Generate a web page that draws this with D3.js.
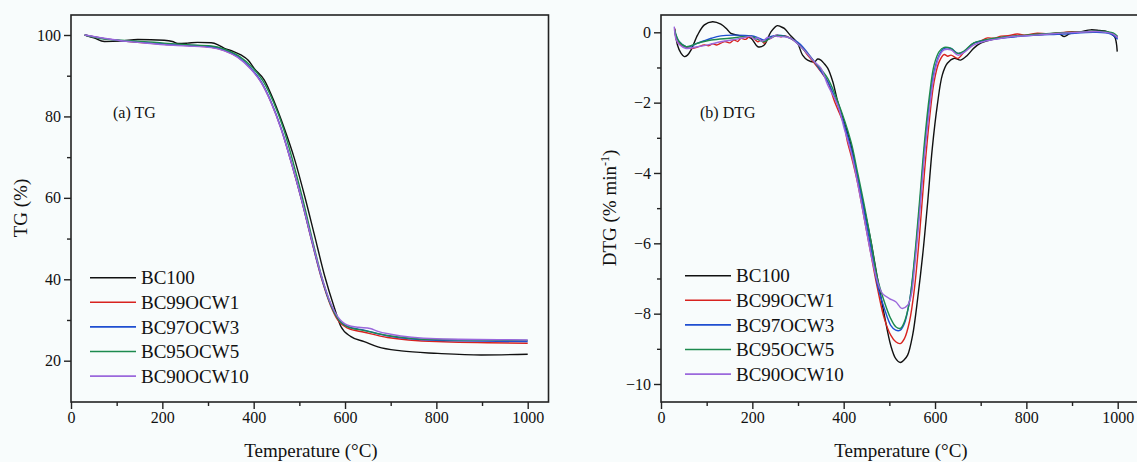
<!DOCTYPE html>
<html><head><meta charset="utf-8">
<script src="https://cdn.jsdelivr.net/npm/d3@7"></script>
<style>
html,body{margin:0;padding:0;background:#f8fcfc;}
svg{display:block;font-family:"Liberation Serif","Times New Roman",serif;}
</style></head>
<body><svg id="c" width="1137" height="462"></svg>
<script>
// ---------- data ----------
const seriesNames = ["BC100","BC99OCW1","BC97OCW3","BC95OCW5","BC90OCW10"];
const seriesColors = ["#111111","#d8231f","#1f4fd1","#1d8a4e","#9b68dc"];
const xTicksMajor = [0,200,400,600,800,1000];
const xTicksMinor = [100,300,500,700,900];
const tgTicksMajor = [20,40,60,80,100];
const tgTicksMinor = [30,50,70,90];
const dtgTicksMajor = [0,-2,-4,-6,-8,-10];
const dtgTicksMinor = [-1,-3,-5,-7,-9];

// TG (%) vs temperature (°C)
const tgBC100 = [[30,100],[50,99.3],[73,98.4],[110,98.5],[146,98.9],[204,98.7],[222,98.4],[234,97.9],[255,98.0],[277,98.2],[307,98.1],[322,97.6],[336,96.7],[355,96.0],[372,95.1],[388,93.8],[401,91.8],[423,89.0],[445,83.6],[467,77.1],[489,69.7],[511,60.7],[533,50.9],[555,41.0],[577,32.9],[591,28.4],[613,25.9],[642,24.7],[672,23.4],[723,22.4],[803,21.8],[898,21.4],[1000,21.6]];
const tgBC99 = [[30,100],[73,99.1],[110,98.6],[146,98.2],[204,97.7],[255,97.4],[307,97.0],[336,96.2],[365,94.6],[394,91.7],[416,88.5],[438,83.5],[460,77.0],[482,68.8],[504,59.8],[526,49.9],[547,40.8],[569,33.4],[584,30.0],[606,28.0],[642,27.0],[693,25.7],[800,24.7],[1000,24.3]];
const tgBC97 = [[30,100],[73,99.1],[110,98.6],[146,98.3],[204,97.8],[255,97.5],[307,97.1],[336,96.3],[365,94.7],[394,91.8],[416,88.6],[438,83.6],[460,77.1],[482,68.9],[504,59.9],[526,50.0],[547,41.0],[569,33.7],[584,30.4],[606,28.4],[642,27.5],[693,26.1],[800,25.0],[1000,24.7]];
const tgBC95 = [[30,100],[73,99.0],[110,98.7],[146,98.5],[204,98.0],[255,97.6],[307,97.3],[336,96.5],[368,94.8],[399,91.8],[421,88.6],[443,83.6],[465,77.1],[486,68.9],[507,59.9],[528,50.0],[548,41.0],[569,33.7],[584,30.4],[606,28.3],[642,27.4],[693,26.2],[800,25.2],[1000,25.0]];
const tgBC90 = [[30,100],[73,99.2],[110,98.6],[146,98.2],[204,97.6],[255,97.3],[307,96.9],[336,96.1],[365,94.5],[394,91.6],[416,88.4],[438,83.4],[460,76.9],[482,68.8],[504,60.0],[526,50.2],[547,41.3],[569,34.0],[584,30.8],[606,28.7],[630,28.2],[655,27.9],[672,27.2],[700,26.5],[800,25.4],[1000,25.1]];

// DTG (% min-1) vs temperature (°C)
const dtgBC100 = [[30,0.1],[36,-0.36],[44,-0.6],[51,-0.69],[58,-0.65],[66,-0.5],[80,-0.08],[95,0.21],[113,0.30],[131,0.23],[145,0.08],[153,-0.03],[175,-0.1],[197,-0.17],[212,-0.41],[226,-0.36],[241,0.02],[255,0.19],[262,0.16],[270,0.11],[284,-0.1],[299,-0.31],[310,-0.65],[321,-0.79],[336,-0.84],[343,-0.76],[350,-0.79],[358,-0.9],[365,-1.02],[376,-1.4],[387,-1.97],[401,-2.54],[416,-3.2],[430,-4.06],[445,-5.0],[460,-5.96],[474,-7.0],[489,-8.04],[503,-8.9],[514,-9.28],[524,-9.39],[532,-9.32],[540,-9.18],[551,-8.61],[562,-7.57],[573,-6.33],[584,-4.82],[594,-3.3],[605,-2.07],[616,-1.21],[627,-0.88],[642,-0.74],[656,-0.79],[671,-0.65],[685,-0.45],[700,-0.31],[729,-0.19],[770,-0.12],[802,-0.08],[840,-0.06],[870,-0.03],[883,-0.12],[895,-0.04],[920,0.02],[941,0.07],[960,0.05],[977,0.02],[993,-0.12],[997,-0.3],[999,-0.55]];
const dtgBC99 = [[30,0.11],[36,-0.27],[51,-0.41],[66,-0.46],[80,-0.42],[95,-0.36],[105,-0.38],[113,-0.33],[122,-0.36],[131,-0.31],[140,-0.26],[150,-0.3],[160,-0.22],[168,-0.26],[175,-0.17],[185,-0.2],[192,-0.14],[197,-0.12],[205,-0.2],[212,-0.27],[219,-0.22],[226,-0.31],[233,-0.2],[241,-0.17],[248,-0.1],[255,-0.08],[262,-0.13],[270,-0.1],[284,-0.17],[299,-0.31],[310,-0.45],[321,-0.65],[336,-0.88],[350,-1.12],[365,-1.4],[380,-1.97],[394,-2.4],[401,-2.63],[408,-3.1],[416,-3.49],[430,-4.25],[445,-5.29],[460,-6.33],[474,-7.28],[489,-8.14],[503,-8.61],[514,-8.8],[524,-8.85],[533,-8.71],[544,-8.23],[555,-7.28],[566,-5.77],[577,-3.96],[588,-2.45],[598,-1.4],[609,-0.84],[620,-0.63],[628,-0.68],[635,-0.65],[650,-0.74],[664,-0.55],[675,-0.42],[685,-0.31],[700,-0.25],[715,-0.16],[730,-0.17],[745,-0.11],[760,-0.1],[780,-0.05],[800,-0.08],[820,-0.03],[850,-0.04],[900,0.02],[930,0.0],[960,0.02],[985,-0.02],[995,-0.1],[1000,-0.15]];
const dtgBC97 = [[30,0.02],[40,-0.27],[55,-0.41],[65,-0.4],[80,-0.31],[95,-0.24],[110,-0.17],[131,-0.1],[160,-0.08],[197,-0.1],[212,-0.15],[226,-0.22],[241,-0.12],[255,-0.08],[270,-0.1],[284,-0.17],[299,-0.28],[310,-0.41],[323,-0.62],[336,-0.84],[350,-1.1],[365,-1.4],[387,-2.07],[401,-2.63],[416,-3.3],[430,-4.06],[445,-5.1],[460,-6.14],[474,-7.19],[489,-7.85],[503,-8.33],[514,-8.47],[524,-8.47],[533,-8.28],[544,-7.66],[555,-6.52],[566,-5.0],[577,-3.3],[588,-1.97],[598,-1.12],[609,-0.65],[620,-0.46],[635,-0.46],[650,-0.6],[664,-0.55],[685,-0.31],[730,-0.19],[800,-0.1],[880,-0.05],[950,0.0],[985,-0.05],[1000,-0.2]];
const dtgBC95 = [[30,0.07],[40,-0.27],[55,-0.41],[80,-0.31],[110,-0.22],[150,-0.17],[197,-0.12],[212,-0.2],[226,-0.27],[241,-0.15],[255,-0.1],[284,-0.17],[310,-0.46],[336,-0.84],[365,-1.31],[387,-1.97],[416,-3.11],[430,-3.96],[445,-4.91],[460,-5.96],[474,-7.0],[489,-7.66],[503,-8.14],[514,-8.37],[524,-8.42],[533,-8.23],[544,-7.66],[555,-6.43],[566,-4.82],[577,-3.11],[588,-1.78],[598,-0.93],[609,-0.55],[620,-0.43],[635,-0.46],[650,-0.6],[664,-0.53],[685,-0.3],[730,-0.17],[800,-0.08],[900,0.0],[960,0.03],[990,-0.02],[1000,-0.12]];
const dtgBC90 = [[29,0.16],[33,-0.2],[40,-0.35],[55,-0.46],[80,-0.41],[105,-0.35],[131,-0.27],[155,-0.22],[175,-0.17],[197,-0.12],[205,-0.2],[212,-0.16],[220,-0.25],[226,-0.22],[234,-0.14],[241,-0.17],[248,-0.1],[255,-0.12],[270,-0.13],[284,-0.17],[310,-0.46],[336,-0.84],[350,-1.02],[365,-1.5],[387,-2.07],[401,-2.73],[416,-3.4],[430,-4.25],[445,-5.29],[460,-6.33],[474,-7.09],[485,-7.43],[500,-7.57],[514,-7.66],[527,-7.85],[540,-7.76],[548,-7.47],[555,-6.71],[566,-5.2],[577,-3.49],[588,-2.17],[598,-1.21],[609,-0.69],[620,-0.5],[635,-0.5],[650,-0.65],[664,-0.57],[685,-0.36],[710,-0.25],[730,-0.2],[770,-0.12],[800,-0.1],[850,-0.05],[900,-0.01],[960,0.02],[990,-0.05],[1000,-0.15]];

const tgSeries = [tgBC100,tgBC99,tgBC97,tgBC95,tgBC90];
const dtgSeries = [dtgBC100,dtgBC99,dtgBC97,dtgBC95,dtgBC90];

// ---------- drawing ----------
const svg = d3.select("#c");
const FONT = '"Liberation Serif","Times New Roman",serif';

function panel(opt){
  const g = svg.append("g");
  const x = d3.scaleLinear().domain([0,1000]).range([opt.x0, opt.x1000]);
  const y = d3.scaleLinear().domain(opt.yRefDomain).range(opt.yRefRange);
  const top = 15, bottom = 402, left = opt.x0, right = opt.xRight;

  g.append("rect").attr("x",left).attr("y",top).attr("width",right-left).attr("height",bottom-top)
    .attr("fill","none").attr("stroke","#222").attr("stroke-width",1.6);

  g.append("g").attr("transform",`translate(0,${bottom})`)
    .call(d3.axisBottom(x).tickValues(opt.xMajor).tickSize(7).tickPadding(3).tickFormat(d3.format("d")));
  g.append("g").attr("transform",`translate(0,${bottom})`)
    .call(d3.axisBottom(x).tickValues(opt.xMinor).tickSize(4).tickFormat(""));
  g.append("g").attr("transform",`translate(${left},0)`)
    .call(d3.axisLeft(y).tickValues(opt.yMajor).tickSize(7).tickPadding(3).tickFormat(d3.format("d")));
  g.append("g").attr("transform",`translate(${left},0)`)
    .call(d3.axisLeft(y).tickValues(opt.yMinor).tickSize(4).tickFormat(""));
  g.selectAll(".domain").remove();
  g.selectAll(".tick line").attr("stroke","#222").attr("stroke-width",1.4);
  g.selectAll(".tick text").attr("font-family",FONT).attr("font-size",16).attr("fill","#111");

  const line = d3.line().x(d=>x(d[0])).y(d=>y(d[1])).curve(opt.curve);
  opt.series.forEach((s,i)=>{
    g.append("path").datum(s).attr("d",line).attr("fill","none")
      .attr("stroke",seriesColors[i]).attr("stroke-width",1.4).attr("stroke-linejoin","round");
  });

  g.append("text").attr("x",opt.labelX).attr("y",112).attr("dy","0.35em")
    .attr("font-family",FONT).attr("font-size",16).attr("fill","#111").text(opt.label);

  seriesNames.forEach((n,i)=>{
    const ly = opt.legY + i*24.6;
    g.append("line").attr("x1",opt.legX).attr("x2",opt.legX+46).attr("y1",ly).attr("y2",ly)
      .attr("stroke",seriesColors[i]).attr("stroke-width",1.6);
    g.append("text").attr("x",opt.legX+51).attr("y",ly).attr("dy","0.35em")
      .attr("font-family",FONT).attr("font-size",19).attr("fill","#111").text(n);
  });

  g.append("text").attr("x",opt.xTitleX).attr("y",457).attr("text-anchor","middle")
    .attr("font-family",FONT).attr("font-size",19).attr("fill","#111").text("Temperature (°C)");
  return {g,x,y};
}

panel({x0:71, x1000:527.7, xRight:548.5, yRefDomain:[20,100], yRefRange:[360.7,35],
  xMajor:xTicksMajor, xMinor:xTicksMinor, yMajor:tgTicksMajor, yMinor:tgTicksMinor,
  series:tgSeries, curve:d3.curveMonotoneX, label:"(a) TG", labelX:113, legX:90, legY:277.7, xTitleX:311});

panel({x0:661, x1000:1117.7, xRight:1138.5, yRefDomain:[-10,0], yRefRange:[384,32.3],
  xMajor:xTicksMajor, xMinor:xTicksMinor, yMajor:dtgTicksMajor, yMinor:dtgTicksMinor,
  series:dtgSeries, curve:d3.curveCatmullRom.alpha(0.5), label:"(b) DTG", labelX:700, legX:685, legY:275.7, xTitleX:901});

svg.append("text").attr("transform","translate(27,208) rotate(-90)").attr("text-anchor","middle")
  .attr("font-family",FONT).attr("font-size",19).attr("fill","#111").text("TG (%)");
const dt = svg.append("text").attr("transform","translate(616,208) rotate(-90)").attr("text-anchor","middle")
  .attr("font-family",FONT).attr("font-size",19).attr("fill","#111");
dt.append("tspan").text("DTG (% min");
dt.append("tspan").attr("dy",-7).attr("font-size",12).text("-1");
dt.append("tspan").attr("dy",7).text(")");
</script></body></html>
